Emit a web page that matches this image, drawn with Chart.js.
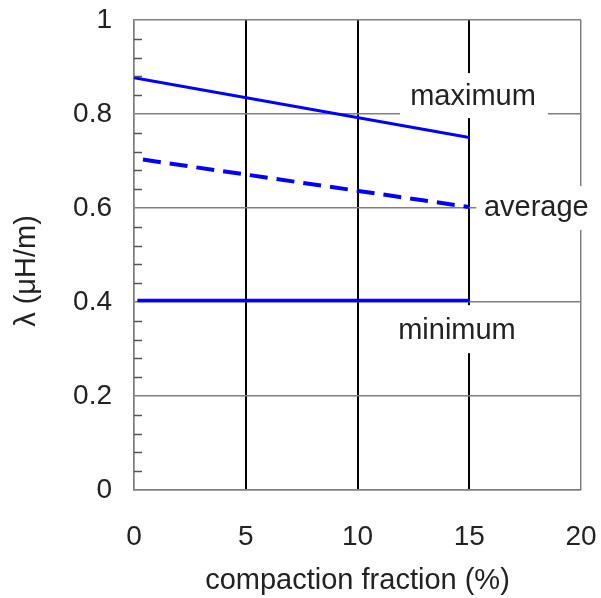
<!DOCTYPE html>
<html>
<head>
<meta charset="utf-8">
<script src="https://cdn.jsdelivr.net/npm/chart.js@4/dist/chart.umd.min.js"></script>
<style>
  html, body { margin: 0; padding: 0; background: #fff; }
  #wrap { width: 601px; height: 598px; }
</style>
</head>
<body>
<div id="wrap"><canvas id="chart" width="601" height="598"></canvas></div>
<script>
  const xTicks = [0, 5, 10, 15, 20];
  const yTicks = [0, 0.2, 0.4, 0.6, 0.8, 1];

  const maximumX = [0, 15];
  const maximumY = [0.877, 0.75];
  const averageX = [0.4, 15];
  const averageY = [0.703, 0.602];
  const minimumX = [0.15, 15];
  const minimumY = [0.403, 0.403];

  const seriesLabels = ["maximum", "average", "minimum"];
  const yTitle = "λ (μH/m)";
  const xTitle = "compaction fraction (%)";

  const font = "'Liberation Sans', Arial, sans-serif";
  const blue = "#0000ff";

  function points(xs, ys) {
    return xs.map((x, i) => ({ x, y: ys[i] }));
  }

  function isMajorY(v) {
    return Math.round(v * 100) % 20 === 0;
  }

  // labels sit beside the line ends, on a white box that cuts the grid
  const labelBoxes = {
    id: "labelBoxes",
    afterDatasetsDraw(chart) {
      const ctx = chart.ctx;
      const xs = chart.scales.x;
      const ys = chart.scales.y;
      const area = chart.chartArea;

      // minor ticks on the inside of the left axis
      ctx.save();
      ctx.strokeStyle = "#555";
      ctx.lineWidth = 1.5;
      ys.ticks.forEach((t) => {
        if (isMajorY(t.value)) return;
        const py = Math.round(ys.getPixelForValue(t.value)) + 0.5;
        ctx.beginPath();
        ctx.moveTo(area.left, py);
        ctx.lineTo(area.left + 8, py);
        ctx.stroke();
      });
      ctx.restore();

      const spots = [
        { text: seriesLabels[0], x: 15.17, y: 0.836, box: [-73, -24, 148, 45] },
        { text: seriesLabels[1], x: 18.0, y: 0.6, box: [-60, -22, 121, 44] },
        { text: seriesLabels[2], x: 14.45, y: 0.338, box: [-67, -26, 135, 48] },
      ];
      ctx.save();
      ctx.font = "29px " + font;
      ctx.textAlign = "center";
      ctx.textBaseline = "middle";
      spots.forEach((s) => {
        const px = xs.getPixelForValue(s.x);
        const py = ys.getPixelForValue(s.y);
        ctx.fillStyle = "#fff";
        ctx.fillRect(px + s.box[0], py + s.box[1], s.box[2], s.box[3]);
        ctx.fillStyle = "#222";
        ctx.fillText(s.text, px, py);
      });

      // y title, a bit below the axis middle as in the source
      ctx.translate(27, area.top + area.height / 2 + 16);
      ctx.rotate(-Math.PI / 2);
      ctx.fillText(yTitle, 0, 0);
      ctx.restore();
    },
  };

  new Chart(document.getElementById("chart"), {
    type: "line",
    data: {
      datasets: [
        {
          label: seriesLabels[0],
          data: points(maximumX, maximumY),
          borderColor: blue,
          borderWidth: 3,
        },
        {
          label: seriesLabels[1],
          data: points(averageX, averageY),
          borderColor: blue,
          borderWidth: 4,
          borderDash: [18, 9],
        },
        {
          label: seriesLabels[2],
          data: points(minimumX, minimumY),
          borderColor: blue,
          borderWidth: 3.5,
        },
      ],
    },
    options: {
      responsive: false,
      animation: false,
      layout: { padding: { top: 20, right: 20, left: 0, bottom: 0 } },
      elements: { point: { radius: 0 }, line: { tension: 0 } },
      plugins: { legend: { display: false }, tooltip: { enabled: false } },
      scales: {
        x: {
          type: "linear",
          min: xTicks[0],
          max: xTicks[xTicks.length - 1],
          afterBuildTicks: (scale) => {
            scale.ticks = xTicks.map((v) => ({ value: v }));
          },
          afterFit: (scale) => {
            scale.height = 108;
            scale.paddingLeft = 0;
            scale.paddingRight = 0;
          },
          grid: {
            drawTicks: false,
            color: (c) => (c.index === 0 || c.index === xTicks.length - 1 ? "#808080" : "#000"),
            lineWidth: (c) => (c.index === 0 || c.index === xTicks.length - 1 ? 1.5 : 2),
          },
          border: { color: "#808080", width: 1.5 },
          ticks: {
            padding: 30,
            maxRotation: 0,
            color: "#222",
            font: { family: font, size: 28 },
          },
          title: {
            display: true,
            text: xTitle,
            color: "#222",
            font: { family: font, size: 29 },
            padding: { top: 0, bottom: 0 },
          },
        },
        y: {
          type: "linear",
          min: yTicks[0],
          max: yTicks[yTicks.length - 1],
          ticks: {
            stepSize: 0.04,
            autoSkip: false,
            padding: 22,
            color: "#222",
            font: { family: font, size: 28 },
            callback: (v) => (isMajorY(v) ? String(Math.round(v * 10) / 10) : ""),
          },
          afterFit: (scale) => {
            scale.width = 134;
            scale.paddingTop = 0;
            scale.paddingBottom = 0;
          },
          grid: {
            drawTicks: false,
            color: (c) => (isMajorY(c.tick.value) ? "#808080" : "rgba(0,0,0,0)"),
            lineWidth: 1.5,
          },
          border: { color: "#808080", width: 1.5 },
        },
      },
    },
    plugins: [labelBoxes],
  });
</script>
</body>
</html>
